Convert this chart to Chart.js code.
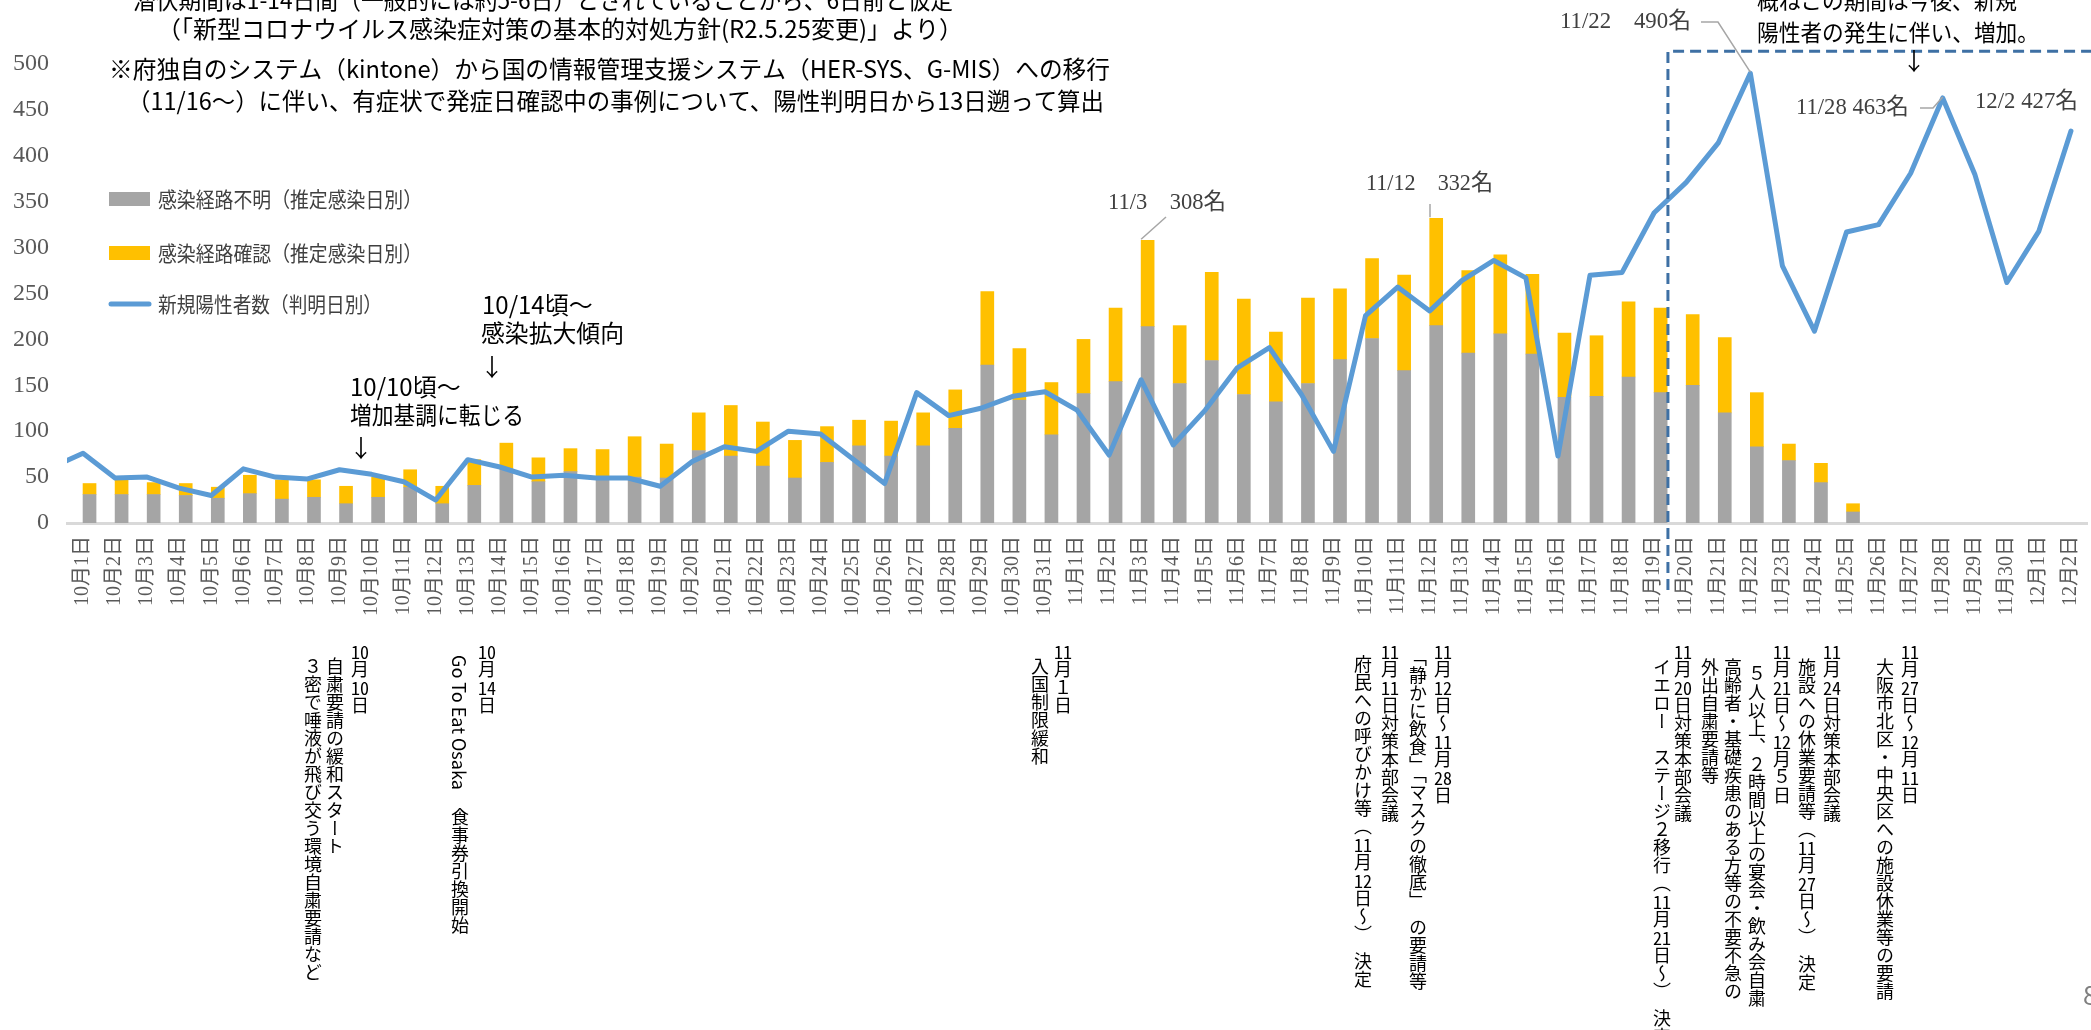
<!DOCTYPE html>
<html lang="ja">
<head>
<meta charset="utf-8">
<script src="https://cdn.jsdelivr.net/npm/chart.js@4.4.1/dist/chart.umd.min.js"></script>
<style>
  html, body { margin: 0; padding: 0; background: #fff; overflow: hidden; }
  #wrap { position: relative; width: 2091px; height: 1030px; }
  #chart { position: absolute; left: 0; top: 0; }
  .vcol {
    position: absolute;
    writing-mode: vertical-rl;
    font-family: "Noto Sans CJK JP", sans-serif;
    font-size: 18px;
    line-height: 20px;
    color: #000;
    white-space: nowrap;
  }
  .vcol b { font-weight: normal; text-combine-upright: all; }
</style>
</head>
<body>
<div id="wrap">
  <canvas id="chart" width="2091" height="1030"></canvas>
</div>
<script>
// --- data ---
const dayLabels = [
  '10月1日', '10月2日', '10月3日', '10月4日', '10月5日', '10月6日', '10月7日', '10月8日', '10月9日', '10月10日',
  '10月11日', '10月12日', '10月13日', '10月14日', '10月15日', '10月16日', '10月17日', '10月18日', '10月19日', '10月20日',
  '10月21日', '10月22日', '10月23日', '10月24日', '10月25日', '10月26日', '10月27日', '10月28日', '10月29日', '10月30日',
  '10月31日', '11月1日', '11月2日', '11月3日', '11月4日', '11月5日', '11月6日', '11月7日', '11月8日', '11月9日',
  '11月10日', '11月11日', '11月12日', '11月13日', '11月14日', '11月15日', '11月16日', '11月17日', '11月18日', '11月19日',
  '11月20日', '11月21日', '11月22日', '11月23日', '11月24日', '11月25日', '11月26日', '11月27日', '11月28日', '11月29日',
  '11月30日', '12月1日', '12月2日'
];

// 感染経路不明（推定感染日別） - no bars after 11/25
const unknownRoute = [
  31, 31, 31, 30, 27, 32, 26, 28, 21, 28,
  39, 21, 41, 59, 45, 56, 50, 50, 49, 79,
  73, 62, 49, 66, 84, 73, 84, 103, 172, 134,
  96, 141, 154, 214, 152, 177, 140, 132, 152, 178,
  201, 166, 215, 185, 206, 184, 137, 138, 159, 142,
  150, 120, 83, 68, 44, 12, null, null, null, null,
  null, null, null
];

// 感染経路確認（推定感染日別）
const knownRoute = [
  12, 17, 13, 13, 12, 20, 21, 19, 19, 22,
  19, 19, 28, 28, 26, 25, 30, 44, 37, 41,
  55, 48, 41, 39, 28, 38, 36, 42, 80, 56,
  57, 59, 80, 94, 63, 96, 104, 76, 93, 77,
  87, 104, 117, 90, 86, 87, 70, 66, 82, 92,
  77, 82, 59, 18, 21, 9, null, null, null, null,
  null, null, null
];

// 新規陽性者数（判明日別）: first value is 9/30, clipped at the left edge
const newCases = [
  60,
  76, 49, 50, 38, 30, 59, 50, 48, 58, 53,
  45, 25, 69, 61, 50, 52, 49, 49, 40, 67,
  83, 78, 100, 97, 70, 43, 142, 117, 125, 138,
  143, 123, 74, 156, 85, 123, 169, 191, 140, 78,
  226, 257, 231, 264, 286, 267, 73, 270, 273, 338,
  371, 414, 490, 280, 209, 317, 325, 381, 463, 380,
  262, 318, 427
];

const yTicks = { min: 0, max: 500, step: 50 };

// --- text annotations ---
const topNotes = [
  { text: '潜伏期間は1-14日間（一般的には約5-6日）とされていることから、6日前と仮定', x: 133, y: 0, w: 820 },
  { text: '（「新型コロナウイルス感染症対策の基本的対処方針(R2.5.25変更)」より）', x: 157, y: 29, w: 806 },
  { text: '※府独自のシステム（kintone）から国の情報管理支援システム（HER-SYS、G-MIS）への移行', x: 109, y: 69, w: 1001 },
  { text: '（11/16～）に伴い、有症状で発症日確認中の事例について、陽性判明日から13日遡って算出', x: 127, y: 101, w: 977 },
  { text: '概ねこの期間は今後、新規', x: 1757, y: 0, w: 260 },
  { text: '陽性者の発生に伴い、増加。', x: 1757, y: 32, w: 282 },
  { text: '10/14頃～', x: 482, y: 305, w: 118 },
  { text: '感染拡大傾向', x: 481, y: 333, w: 143 },
  { text: '10/10頃～', x: 350, y: 387, w: 118 },
  { text: '増加基調に転じる', x: 350, y: 415, w: 174 }
];
const arrows = [
  { x: 1914, y: 61 },
  { x: 492, y: 367 },
  { x: 361, y: 448 }
];

const peakNotes = [
  { text: '11/3　308名', x: 1108, y: 203, w: 118, idx: 33, val: 308, path: [[1166, 217]] },
  { text: '11/12　332名', x: 1366, y: 184, w: 127, idx: 42, val: 332, path: [[1430, 204]], vertical: true },
  { text: '11/22　490名', x: 1560, y: 22, w: 131, idx: 52, val: 490, path: [[1701, 22], [1718, 22]] },
  { text: '11/28 463名', x: 1796, y: 108, w: 113, idx: 58, val: 463, path: [[1920, 108], [1933, 108]] },
  { text: '12/2 427名', x: 1975, y: 102, w: 103 }
];

const vColumns = [
  { x: 360, top: 642, html: '<b>10</b>月<b>10</b>日' },
  { x: 335, top: 657, html: '自粛要請の緩和スタート' },
  { x: 313, top: 657, html: '３密で唾液が飛び交う環境自粛要請など' },
  { x: 487, top: 642, html: '<b>10</b>月<b>14</b>日' },
  { x: 460, top: 655, html: 'Go To Eat Osaka　食事券引換開始' },
  { x: 1063, top: 642, html: '<b>11</b>月１日' },
  { x: 1040, top: 657, html: '入国制限緩和' },
  { x: 1443, top: 642, html: '<b>11</b>月<b>12</b>日～<b>11</b>月<b>28</b>日' },
  { x: 1418, top: 648, html: '「静かに飲食」「マスクの徹底」　の要請等' },
  { x: 1390, top: 642, html: '<b>11</b>月<b>11</b>日対策本部会議' },
  { x: 1363, top: 655, html: '府民への呼びかけ等（<b>11</b>月<b>12</b>日～）　決定' },
  { x: 1832, top: 642, html: '<b>11</b>月<b>24</b>日対策本部会議' },
  { x: 1807, top: 658, html: '施設への休業要請等（<b>11</b>月<b>27</b>日～）　決定' },
  { x: 1782, top: 642, html: '<b>11</b>月<b>21</b>日～<b>12</b>月５日' },
  { x: 1757, top: 665, html: '５人以上、２時間以上の宴会・飲み会自粛' },
  { x: 1733, top: 658, html: '高齢者・基礎疾患のある方等の不要不急の' },
  { x: 1710, top: 658, html: '外出自粛要請等' },
  { x: 1683, top: 642, html: '<b>11</b>月<b>20</b>日対策本部会議' },
  { x: 1662, top: 658, html: 'イエロー　ステージ２移行（<b>11</b>月<b>21</b>日～）　決定' },
  { x: 1910, top: 642, html: '<b>11</b>月<b>27</b>日～<b>12</b>月<b>11</b>日' },
  { x: 1885, top: 658, html: '大阪市北区・中央区への施設休業等の要請' }
];

const wrap = document.getElementById('wrap');
vColumns.forEach(c => {
  const d = document.createElement('div');
  d.className = 'vcol';
  d.style.left = (c.x - 10) + 'px';
  d.style.top = c.top + 'px';
  d.innerHTML = c.html;
  wrap.appendChild(d);
});

const JP = '"Noto Sans CJK JP", sans-serif';
const SERIF = '"Liberation Serif", "Noto Sans CJK JP", serif';

const overlay = {
  id: 'overlay',
  afterDraw(chart) {
    const ctx = chart.ctx;
    const xs = chart.scales.x, ys = chart.scales.y, xl = chart.scales.xl;
    ctx.save();

    // dashed box for the period after 11/19
    const bx = xl.getPixelForValue(49.43);
    const by = ys.getPixelForValue(514);
    ctx.strokeStyle = '#3e70a4';
    ctx.lineWidth = 3;
    ctx.setLineDash([11, 6]);
    ctx.beginPath();
    ctx.moveTo(bx, 590);
    ctx.lineTo(bx, by);
    ctx.lineTo(chart.width + 5, by);
    ctx.stroke();
    ctx.setLineDash([]);

    // plain notes
    ctx.fillStyle = '#000';
    ctx.textBaseline = 'middle';
    ctx.textAlign = 'left';
    topNotes.forEach((n, i) => {
      ctx.font = (i >= 4 && i <= 5 ? '23px ' : '24px ') + JP;
      ctx.fillText(n.text, n.x, n.y, n.w);
    });
    ctx.textAlign = 'center';
    ctx.font = '24px ' + JP;
    arrows.forEach(a => ctx.fillText('↓', a.x, a.y));

    // peak labels with leader lines
    ctx.strokeStyle = '#a6a6a6';
    ctx.lineWidth = 1.5;
    peakNotes.forEach(p => {
      if (p.idx === undefined) return;
      ctx.beginPath();
      ctx.moveTo(p.path[0][0], p.path[0][1]);
      p.path.slice(1).forEach(pt => ctx.lineTo(pt[0], pt[1]));
      const px = p.vertical ? p.path[0][0] : xs.getPixelForValue(p.idx);
      ctx.lineTo(px, ys.getPixelForValue(p.val) - 1);
      ctx.stroke();
    });
    ctx.fillStyle = '#404040';
    ctx.textAlign = 'left';
    ctx.font = '23px ' + SERIF;
    peakNotes.forEach(p => ctx.fillText(p.text, p.x, p.y, p.w));

    // legend
    const ds = chart.data.datasets;
    const rows = [
      { set: ds[1], y: 199, w: 264 },
      { set: ds[2], y: 253, w: 264 },
      { set: ds[0], y: 304, w: 224 }
    ];
    ctx.font = '21px ' + JP;
    rows.forEach(r => {
      if (r.set.type === 'line') {
        ctx.strokeStyle = r.set.borderColor;
        ctx.lineWidth = 5;
        ctx.lineCap = 'round';
        ctx.beginPath();
        ctx.moveTo(111, r.y);
        ctx.lineTo(149, r.y);
        ctx.stroke();
      } else {
        ctx.fillStyle = r.set.backgroundColor;
        ctx.fillRect(109, r.y - 7, 41, 14);
      }
      ctx.fillStyle = '#404040';
      ctx.fillText(r.set.label, 158, r.y, r.w);
    });

    // page number, cut at the right edge
    ctx.fillStyle = '#7f7f7f';
    ctx.font = '26px ' + JP;
    ctx.fillText('8', 2083, 995);

    ctx.restore();
  }
};

new Chart(document.getElementById('chart'), {
  type: 'bar',
  data: {
    labels: dayLabels,
    datasets: [
      {
        type: 'line',
        label: '新規陽性者数（判明日別）',
        data: newCases.map((v, i) => ({ x: i - 1, y: v })),
        xAxisID: 'xl',
        stack: 'line',
        borderColor: '#5b9bd5',
        borderWidth: 5,
        borderJoinStyle: 'round',
        borderCapStyle: 'round',
        pointRadius: 0,
        tension: 0,
        clip: 0,
        order: 0
      },
      {
        label: '感染経路不明（推定感染日別）',
        data: unknownRoute,
        xAxisID: 'x',
        stack: 'bars',
        backgroundColor: '#a5a5a5',
        order: 1
      },
      {
        label: '感染経路確認（推定感染日別）',
        data: knownRoute,
        xAxisID: 'x',
        stack: 'bars',
        backgroundColor: '#ffc000',
        order: 1
      }
    ]
  },
  options: {
    responsive: false,
    animation: false,
    devicePixelRatio: 1,
    layout: { padding: { top: 64, right: 4, bottom: 0, left: 0 } },
    plugins: { legend: { display: false }, tooltip: { enabled: false } },
    datasets: { bar: { barThickness: 13 } },
    scales: {
      x: {
        stacked: true,
        grid: { display: false, drawTicks: false },
        border: { color: '#d9d9d9', width: 3 },
        ticks: {
          autoSkip: false,
          maxRotation: 90,
          minRotation: 90,
          padding: 13,
          color: '#595959',
          font: { family: SERIF, size: 20 }
        },
        afterFit: s => { s.height = 507; s.paddingLeft = 0; s.paddingRight = 0; }
      },
      xl: { type: 'linear', display: false, min: -0.5, max: 62.5, offset: false },
      y: {
        stacked: true,
        min: yTicks.min,
        max: yTicks.max,
        grid: { display: false, drawTicks: false },
        border: { display: false },
        ticks: {
          stepSize: yTicks.step,
          padding: 18,
          color: '#595959',
          font: { family: SERIF, size: 24 }
        },
        afterFit: s => { s.width = 67; s.paddingTop = 0; s.paddingBottom = 0; }
      }
    }
  },
  plugins: [overlay]
});
</script>
</body>
</html>
